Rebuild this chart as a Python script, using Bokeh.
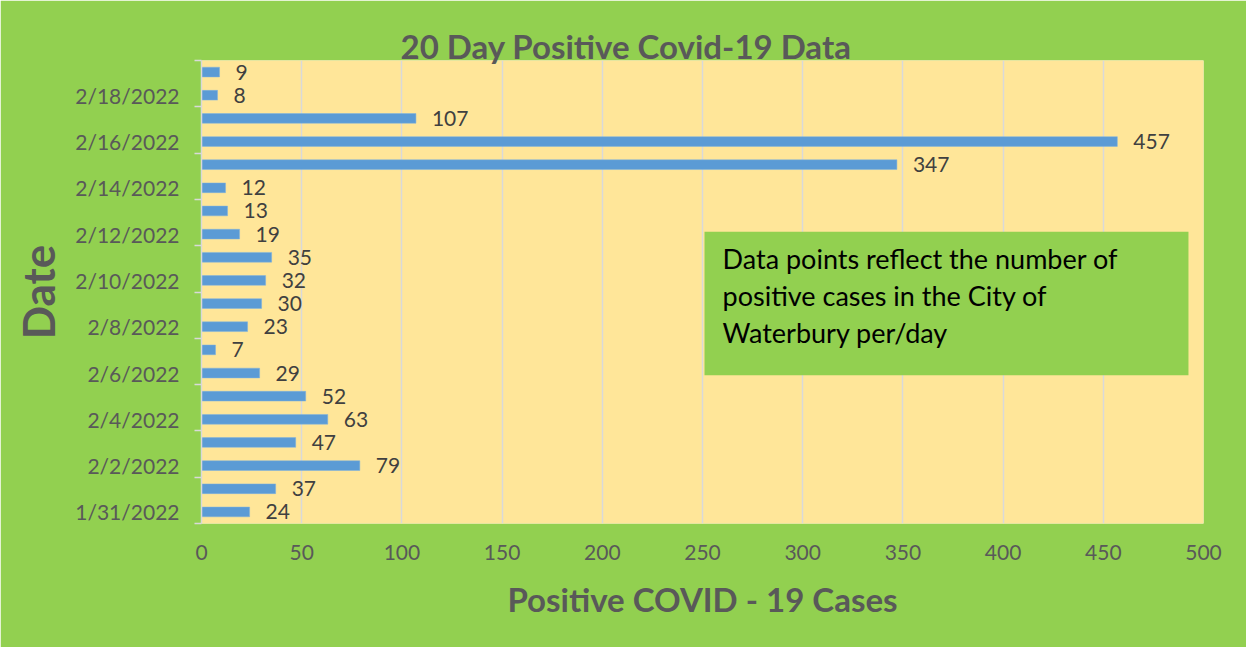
from bokeh.plotting import figure
from bokeh.models import ColumnDataSource, LabelSet, Label, BoxAnnotation, FixedTicker, Range1d
from bokeh.core.properties import value
from bokeh.embed import file_html
from bokeh.resources import INLINE

dates = ["1/31/2022", "2/1/2022", "2/2/2022", "2/3/2022", "2/4/2022", "2/5/2022", "2/6/2022",
         "2/7/2022", "2/8/2022", "2/9/2022", "2/10/2022", "2/11/2022", "2/12/2022", "2/13/2022",
         "2/14/2022", "2/15/2022", "2/16/2022", "2/17/2022", "2/18/2022", "2/19/2022"]
cases = [24, 37, 79, 47, 63, 52, 29, 7, 23, 30, 32, 35, 19, 13, 12, 347, 457, 107, 8, 9]
x_ticks = [0, 50, 100, 150, 200, 250, 300, 350, 400, 450, 500]
title_text = "20 Day Positive Covid-19 Data"
note_lines = ["Data points reflect the number of", "positive cases in the City of",
              "Waterbury per/day"]

GREEN = "#92D050"
YELLOW = "#FFE699"
BLUE = "#5B9BD5"
GREY_TXT = "#595959"
FONT = "Lato"

idx = list(range(len(dates)))
src = ColumnDataSource(dict(y=idx, v=cases, lbl=[str(c) for c in cases]))

p = figure(width=1246, height=647, output_backend="svg", toolbar_location=None,
           x_range=Range1d(0, 500), y_range=Range1d(-0.5, len(dates) - 0.5),
           min_border_left=201, min_border_right=43, min_border_top=60, min_border_bottom=124,
           title=title_text)
p.background_fill_color = YELLOW
p.border_fill_color = GREEN
p.outline_line_color = None

p.title.align = "left"
p.title.offset = 199
p.title.standoff = -10
p.title.text_font = FONT
p.title.text_font_style = "bold"
p.title.text_font_size = "33px"
p.title.text_color = GREY_TXT

p.hbar(y="y", left=0, right="v", height=0.42, source=src, fill_color=BLUE,
       line_color="#7FB2E0", line_width=0.5)

p.add_layout(LabelSet(x="v", y="y", text="lbl", source=src, x_offset=16,
                      text_baseline="middle", text_font=value(FONT), text_font_size="21px",
                      text_color="#404040"))

# x axis
p.xaxis.ticker = FixedTicker(ticks=x_ticks)
p.xaxis.axis_line_color = None
p.xaxis.major_tick_line_color = None
p.xaxis.minor_tick_line_color = None
p.xaxis.major_tick_out = 0
p.xaxis.major_tick_in = 0
p.xaxis.major_label_standoff = 21
p.xaxis.major_label_text_font = FONT
p.xaxis.major_label_text_font_size = "21px"
p.xaxis.major_label_text_color = GREY_TXT
p.xaxis.axis_label = "Positive COVID - 19 Cases"
p.xaxis.axis_label_text_font = FONT
p.xaxis.axis_label_text_font_style = "bold"
p.xaxis.axis_label_text_font_size = "33px"
p.xaxis.axis_label_text_color = GREY_TXT
p.xaxis.axis_label_standoff = 16

# y axis
label_pos = list(range(0, len(dates), 2))
p.yaxis.ticker = FixedTicker(ticks=label_pos, minor_ticks=[i - 0.5 for i in range(0, len(dates) + 1, 2)])
p.yaxis.major_label_overrides = {i: dates[i] for i in label_pos}
p.yaxis.axis_line_color = "#D9D9D9"
p.yaxis.axis_line_width = 1.5
p.yaxis.major_tick_line_color = None
p.yaxis.major_tick_out = 0
p.yaxis.major_tick_in = 0
p.yaxis.minor_tick_line_color = "#D9D9D9"
p.yaxis.minor_tick_line_width = 1.5
p.yaxis.minor_tick_out = 7
p.yaxis.minor_tick_in = 0
p.yaxis.major_label_standoff = 15
p.yaxis.major_label_text_font = FONT
p.yaxis.major_label_text_font_size = "21px"
p.yaxis.major_label_text_color = GREY_TXT
p.yaxis.axis_label = "Date"
p.yaxis.axis_label_text_font = FONT
p.yaxis.axis_label_text_font_style = "bold"
p.yaxis.axis_label_text_font_size = "44px"
p.yaxis.axis_label_text_color = GREY_TXT
p.yaxis.axis_label_standoff = 8

p.xgrid.grid_line_color = "#D9D9D9"
p.xgrid.grid_line_width = 1.5
p.ygrid.grid_line_color = None

# note box
p.add_layout(BoxAnnotation(left=251, right=492.5, top=12.1, bottom=5.9,
                           fill_color=GREEN, fill_alpha=1.0, line_color=None))
for k, t in enumerate(note_lines):
    p.add_layout(Label(x=260, y=10.93 - 1.6 * k, text=t, text_baseline="middle",
                       text_font=FONT, text_font_size="27px", text_color="#000000"))

open("out.html", "w").write(file_html(p, INLINE))
